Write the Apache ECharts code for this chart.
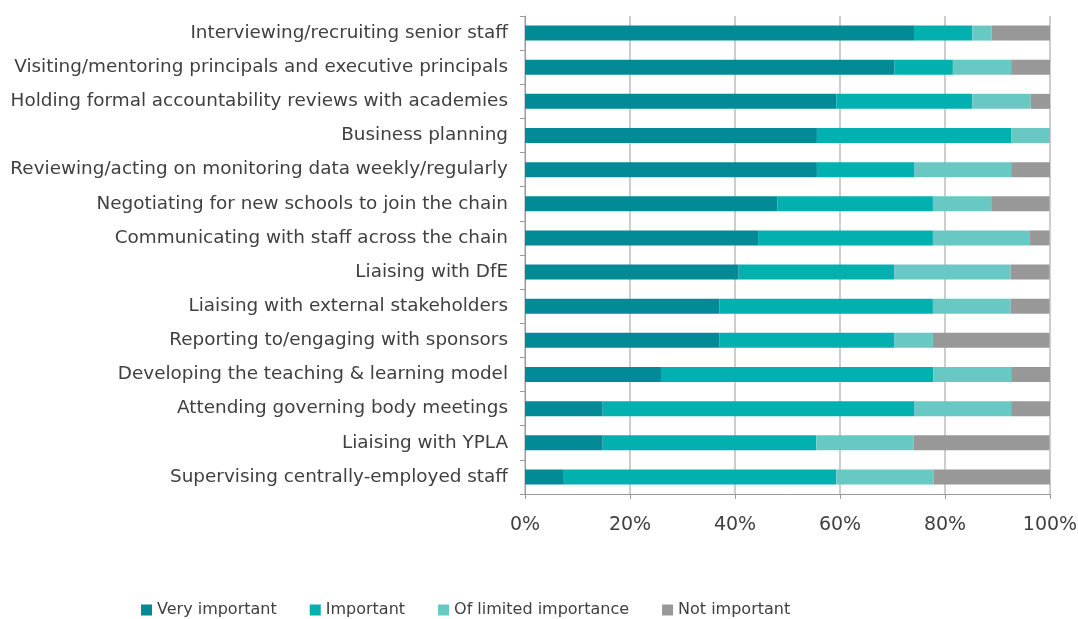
<!DOCTYPE html>
<html>
<head>
<meta charset="utf-8">
<script src="https://cdn.jsdelivr.net/npm/echarts@6/dist/echarts.min.js"></script>
<style>
  html, body { margin: 0; padding: 0; background: #fff; }
  #chart { width: 1078px; height: 619px; }
</style>
</head>
<body>
<div id="chart"></div>
<script>
// categories, top to bottom
var categories = [
  'Interviewing/recruiting senior staff',
  'Visiting/mentoring principals and executive principals',
  'Holding formal accountability reviews with academies',
  'Business planning',
  'Reviewing/acting on monitoring data weekly/regularly',
  'Negotiating for new schools to join the chain',
  'Communicating with staff across the chain',
  'Liaising with DfE',
  'Liaising with external stakeholders',
  'Reporting to/engaging with sponsors',
  'Developing the teaching & learning model',
  'Attending governing body meetings',
  'Liaising with YPLA',
  'Supervising centrally-employed staff'
]

// shares in %
var veryImportant = [74.1, 70.4, 59.3, 55.6, 55.6, 48.1, 44.4, 40.7, 37.0, 37.0, 25.9, 14.8, 14.8, 7.4]
var important = [11.1, 11.1, 25.9, 37.0, 18.5, 29.6, 33.3, 29.6, 40.7, 33.3, 51.9, 59.3, 40.7, 51.9]
var limitedImportance = [3.7, 11.1, 11.1, 7.4, 18.5, 11.1, 18.5, 22.2, 14.8, 7.4, 14.8, 18.5, 18.5, 18.5]
var notImportant = [11.1, 7.4, 3.7, 0, 7.4, 11.1, 3.7, 7.4, 7.4, 22.2, 7.4, 7.4, 25.9, 22.2]

var xTicks = [0, 20, 40, 60, 80, 100]

var colors = ['#028a96', '#02b0af', '#67c8c4', '#989898']
var font = 'DejaVu Sans, Verdana, sans-serif'

function bar(name, data) {
  return {
    name: name,
    type: 'bar',
    stack: 'total',
    barWidth: 15,
    data: data
  }
}

var myChart = echarts.init(document.getElementById('chart'))
var option = {
  animation: false,
  color: colors,
  textStyle: { fontFamily: font },
  grid: {
    left: 525,
    right: 28,
    top: 16,
    bottom: 125,
    containLabel: false,
    outerBoundsMode: 'none'
  },
  legend: {
    left: 136,
    top: 597,
    icon: 'rect',
    itemWidth: 11,
    itemHeight: 11,
    itemGap: 33,
    textStyle: { fontSize: 16, color: '#404040', fontFamily: font },
    data: ['Very important', 'Important', 'Of limited importance', 'Not important']
  },
  xAxis: {
    type: 'value',
    min: xTicks[0],
    max: xTicks[xTicks.length - 1],
    interval: 20,
    axisLine: { show: true, lineStyle: { color: '#9a9a9a', width: 1 } },
    axisTick: { show: true, length: 5, lineStyle: { color: '#9a9a9a' } },
    splitLine: { show: true, lineStyle: { color: '#bdbdbd', width: 1.5 } },
    axisLabel: {
      margin: 22,
      fontSize: 19,
      color: '#404040',
      fontFamily: font,
      formatter: '{value}%'
    }
  },
  yAxis: {
    type: 'category',
    inverse: true,
    data: categories,
    axisLine: { show: true, lineStyle: { color: '#9a9a9a', width: 1 } },
    axisTick: { show: true, length: 5, inside: false, lineStyle: { color: '#9a9a9a' } },
    axisLabel: {
      margin: 17,
      fontSize: 18.4,
      color: '#404040',
      fontFamily: font
    }
  },
  series: [
    bar('Very important', veryImportant),
    bar('Important', important),
    bar('Of limited importance', limitedImportance),
    bar('Not important', notImportant)
  ]
}
myChart.setOption(option)
</script>
</body>
</html>
